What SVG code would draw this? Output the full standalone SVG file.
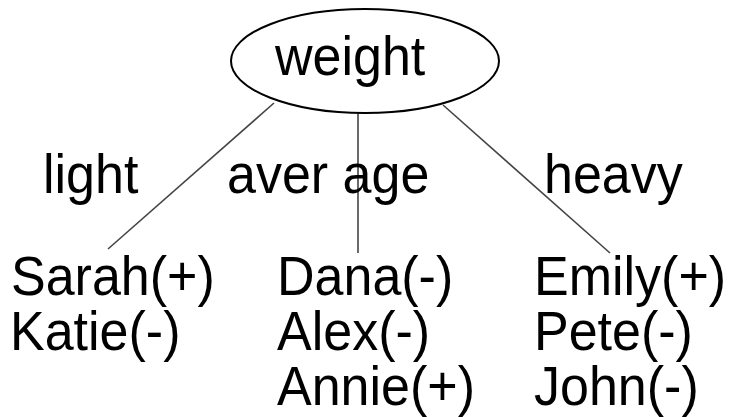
<svg xmlns="http://www.w3.org/2000/svg" width="731" height="417" viewBox="0 0 731 417">
  <style>
    text { font-family: "Liberation Sans", Arial, sans-serif; font-size: 52px; fill: #000; }
    .edge { stroke: #444; stroke-width: 1.6; fill: none; }
    .node-shape { fill: #fff; stroke: #000; stroke-width: 2; }
  </style>
  <rect width="731" height="417" fill="#fff"/>

  <!-- tree edges -->
  <g id="connectors">
    <line class="edge" x1="274" y1="103" x2="108" y2="249"/>
    <line class="edge" x1="358" y1="113" x2="358" y2="253"/>
    <line class="edge" x1="443" y1="105" x2="610" y2="253"/>
  </g>

  <!-- root attribute; glyphs are drawn slightly taller than wide -->
  <g id="node-weight">
    <ellipse class="node-shape" cx="365" cy="61" rx="134" ry="52"/>
    <text transform="matrix(1,0,0,1.06,275,75)">weight</text>
  </g>

  <!-- branch labels -->
  <g id="label-light"><text transform="matrix(1,0,0,1.06,43,193)">light</text></g>
  <g id="label-average"><text transform="matrix(1,0,0,1.06,227,193)">aver age</text></g>
  <g id="label-heavy"><text transform="matrix(1,0,0,1.06,544,193)">heavy</text></g>

  <!-- leaves -->
  <g id="leaf-light">
    <text transform="matrix(1,0,0,1.06,11,295)">Sarah(+)</text>
    <text transform="matrix(1,0,0,1.06,10,350)">Katie(-)</text>
  </g>
  <g id="leaf-average">
    <text transform="matrix(1,0,0,1.06,277,295)">Dana(-)</text>
    <text transform="matrix(1,0,0,1.06,277,350)">Alex(-)</text>
    <text transform="matrix(1,0,0,1.06,277,405)">Annie(+)</text>
  </g>
  <g id="leaf-heavy">
    <text transform="matrix(1,0,0,1.06,534,295)">Emily(+)</text>
    <text transform="matrix(1,0,0,1.06,534,350)">Pete(-)</text>
    <text transform="matrix(1,0,0,1.06,534,405)">John(-)</text>
  </g>
</svg>
